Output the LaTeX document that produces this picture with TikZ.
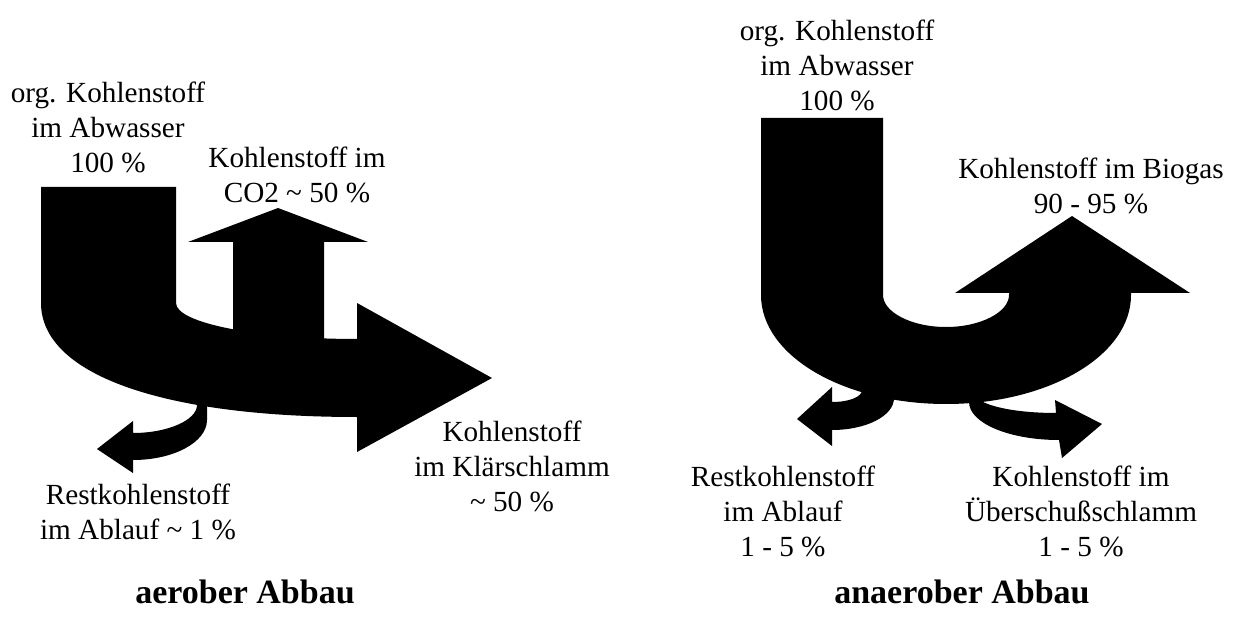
\documentclass[tikz,border=0pt]{standalone}
\usepackage{fontspec}
\setmainfont{Liberation Serif}
\begin{document}
\begin{tikzpicture}[x=0.5pt,y=-0.5pt,
  flow/.style={fill=black,draw=none},
  lbl/.style={align=center,inner sep=0pt,font=\fontsize{14.6}{17.5}\selectfont},
  ttl/.style={inner sep=0pt,font=\fontsize{17}{20}\selectfont\bfseries}]
\useasboundingbox (0,0) rectangle (1240,625);

% ---------- aerober Abbau ----------
\fill[flow] (41,187) -- (176,187) -- (176,303)
  .. controls (176,323) and (257,339) .. (357,339) -- (357,417)
  .. controls (161,417) and (41,374) .. (41,303) -- cycle;
\fill[flow] (233,345) -- (233,242) -- (188,242) -- (278,208) -- (368,242) -- (324,242) -- (324,345) -- cycle;
\fill[flow] (357,303) -- (492,378) -- (357,452) -- cycle;
\fill[flow] (197,400) -- (207,400) -- (207,420)
  .. controls (207,442) and (174,460) .. (133,460) -- (133,473) -- (97,449) -- (133,421) -- (133,433)
  .. controls (168,433) and (197,420) .. (197,405) -- cycle;

% ---------- anaerober Abbau ----------
\fill[flow] (761,118) -- (883,118) -- (883,295)
  .. controls (883,312) and (911.2,327) .. (946,327)
  .. controls (980.8,327) and (1009,312) .. (1009,295)
  -- (1009,293) -- (955,293) -- (1072,216) -- (1190,293) -- (1131,293) -- (1131,295)
  .. controls (1131,356) and (1048,404) .. (946,404)
  .. controls (844,404) and (761,356) .. (761,295) -- cycle;
\fill[flow] (862,388) -- (894,395) -- (894,398)
  .. controls (894,416) and (866,430) .. (832,430) -- (832,446) -- (797,419) -- (832,387) -- (832,402)
  .. controls (849,402) and (862,397) .. (862,390) -- cycle;
\fill[flow] (969,397) -- (983,397) -- (983,402)
  .. controls (1000,410) and (1030,413) .. (1056,413) -- (1055,400) -- (1102,424) -- (1062,458) -- (1059,440)
  .. controls (1009,440) and (969,423) .. (969,402) -- cycle;

% ---------- labels ----------
\node[lbl] (inL) at (108,127) {org. Kohlenstoff\\im Abwasser\\100 \%};
\node[lbl] (co2) at (297,175) {Kohlenstoff im\\CO2 \textasciitilde{} 50 \%};
\node[lbl] (restL) at (138,512) {Restkohlenstoff\\im Ablauf \textasciitilde{} 1 \%};
\node[lbl] (klaer) at (512,466) {Kohlenstoff\\im Klärschlamm\\\textasciitilde{} 50 \%};
\node[ttl] (aer) at (245,592) {aerober Abbau};

\node[lbl] (inR) at (837,65) {org. Kohlenstoff\\im Abwasser\\100 \%};
\node[lbl] (bio) at (1091,186) {Kohlenstoff im Biogas\\90 - 95 \%};
\node[lbl] (restR) at (783,511) {Restkohlenstoff\\im Ablauf\\1 - 5 \%};
\node[lbl] (ueber) at (1081,511) {Kohlenstoff im\\Überschußschlamm\\1 - 5 \%};
\node[ttl] (anaer) at (962,592) {anaerober Abbau};
\end{tikzpicture}
\end{document}
